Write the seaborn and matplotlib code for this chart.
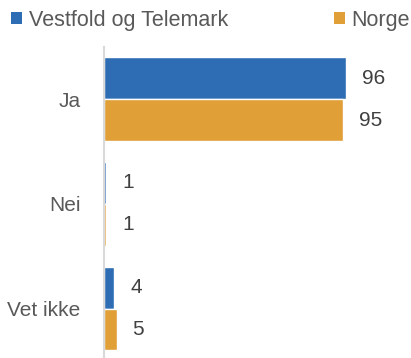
import matplotlib
matplotlib.use("Agg")
import matplotlib.pyplot as plt
import seaborn as sns
import pandas as pd
from matplotlib.patches import Patch

# Survey answers and shares (%) per area
svar = ["Ja", "Nei", "Vet ikke"]
omrader = ["Vestfold og Telemark", "Norge"]
vestfold_telemark = [96, 1, 4]
norge = [95, 1, 5]
farger = ["#2E6DB4", "#E09F37"]

df = pd.DataFrame({
    "Svar": svar * 2,
    "Område": [omrader[0]] * len(svar) + [omrader[1]] * len(svar),
    "Andel": vestfold_telemark + norge,
})

sns.set_theme(style="white")
plt.rcParams["font.family"] = ["Liberation Sans", "DejaVu Sans"]

fig = plt.figure(figsize=(4.11, 3.58), dpi=100)
ax = fig.add_axes([0.253, -0.008, 0.747, 0.877])

sns.barplot(data=df, y="Svar", x="Andel", hue="Område", orient="h",
            palette=farger, width=0.8, order=svar, hue_order=omrader,
            saturation=1, ax=ax, legend=False)

for cont in ax.containers:
    ax.bar_label(cont, fmt="%d", padding=11.5, fontsize=15, color="#404040")

ax.set_xlim(0, 122)
ax.set_xlabel("")
ax.set_ylabel("")
ax.set_xticks([])
ax.tick_params(axis="y", length=0, pad=17, labelsize=15, labelcolor="#595959")
for s in ["top", "right", "bottom"]:
    ax.spines[s].set_visible(False)
ax.spines["left"].set_color("#D9D9D9")
ax.spines["left"].set_linewidth(1.5)

# One legend entry at each top corner
legend_kw = dict(frameon=False, fontsize=15.5, handlelength=0.5,
                 handleheight=0.5, handletextpad=0.3, labelcolor="#595959",
                 borderaxespad=0.0, borderpad=0.2)
fig.legend([Patch(facecolor=farger[0], edgecolor="none")], [omrader[0]],
           loc="upper left", bbox_to_anchor=(0.017, 0.985), **legend_kw)
fig.legend([Patch(facecolor=farger[1], edgecolor="none")], [omrader[1]],
           loc="upper right", bbox_to_anchor=(1.007, 0.985), **legend_kw)

fig.savefig("out.png", dpi=100)
